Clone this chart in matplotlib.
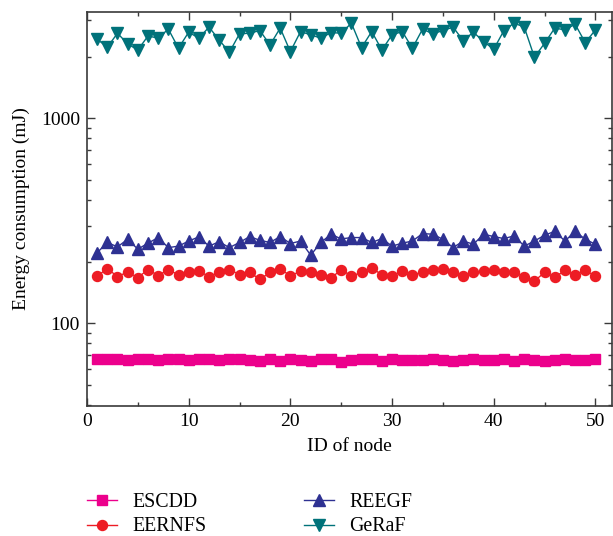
import numpy as np
import matplotlib.pyplot as plt
from matplotlib.ticker import LogLocator, NullFormatter, FixedLocator

plt.rcParams['font.family'] = ['Liberation Serif', 'DejaVu Serif']

# node ids and energy consumption (mJ) for each scheme
node_id = np.arange(1, 51)

escdd = [66.7, 66.8, 66.8, 66.4, 66.8, 66.8, 66.1, 66.7, 66.8, 66.4,
         66.7, 66.8, 66.4, 66.7, 66.8, 66.4, 65.6, 67.0, 65.2, 66.8,
         65.9, 65.6, 66.8, 67.3, 64.6, 65.9, 66.8, 66.8, 65.2, 66.8,
         66.4, 66.4, 65.9, 66.8, 66.4, 65.6, 66.4, 67.0, 66.4, 66.4,
         67.3, 65.6, 66.7, 66.1, 65.6, 66.4, 66.8, 66.1, 66.4, 67.3]

eernfs = [170, 185, 169, 178, 167, 183, 171, 183, 172, 177,
          180, 169, 177, 183, 173, 177, 164, 177, 185, 170,
          180, 177, 172, 166, 183, 170, 177, 187, 172, 170,
          180, 173, 177, 182, 185, 177, 170, 177, 180, 183,
          177, 178, 168, 161, 177, 168, 181, 172, 181, 170]

reegf = [221, 248, 236, 257, 230, 246, 262, 234, 238, 252,
         264, 238, 250, 234, 248, 265, 254, 248, 265, 245,
         252, 215, 248, 272, 258, 262, 262, 248, 259, 238,
         246, 252, 274, 272, 257, 234, 252, 243, 272, 265,
         259, 267, 238, 252, 269, 281, 252, 281, 257, 243]

geraf = [2432, 2223, 2600, 2306, 2153, 2522, 2460, 2723, 2198, 2632,
         2460, 2785, 2410, 2099, 2583, 2600, 2680, 2280, 2755, 2114,
         2650, 2553, 2460, 2620, 2600, 2913, 2212, 2650, 2153, 2553,
         2650, 2198, 2723, 2583, 2680, 2785, 2393, 2632, 2366, 2173,
         2680, 2913, 2785, 1986, 2323, 2755, 2700, 2877, 2340, 2700]

fig = plt.figure(figsize=(6.13, 5.36), dpi=100)
ax = fig.add_axes([0.1419, 0.2425, 0.856, 0.7351])

ax.plot(node_id, escdd, color='#ec008c', marker='s', markersize=6.8,
        linewidth=1.0, label='ESCDD')
ax.plot(node_id, eernfs, color='#ed1c24', marker='o', markersize=7.2,
        linewidth=1.0, label='EERNFS')
ax.plot(node_id, reegf, color='#2e3192', marker='^', markersize=8.6,
        linewidth=1.0, label='REEGF')
ax.plot(node_id, geraf, color='#00727a', marker='v', markersize=8.6,
        linewidth=1.0, label='GeRaF')

ax.set_yscale('log')
ax.set_xlim(0, 51.6)
ax.set_ylim(39.5, 3300)

ax.xaxis.set_major_locator(FixedLocator([0, 10, 20, 30, 40, 50]))
ax.xaxis.set_minor_locator(FixedLocator([5, 15, 25, 35, 45]))
ax.yaxis.set_major_locator(FixedLocator([100, 1000]))
ax.yaxis.set_minor_locator(LogLocator(base=10, subs=np.arange(2, 10)))
ax.yaxis.set_minor_formatter(NullFormatter())
ax.set_yticklabels(['100', '1000'])

ax.tick_params(which='both', direction='in', top=True, right=True,
               colors='#3a3a3a', labelcolor='black', labelsize=14, width=1.0)
ax.tick_params(which='major', length=5.5, pad=5)
ax.tick_params(which='minor', length=2.8)
for s in ax.spines.values():
    s.set_color('#3a3a3a')
    s.set_linewidth(1.2)

ax.set_xlabel('ID of node', fontsize=14, labelpad=6)
ax.set_ylabel('Energy consumption (mJ)', fontsize=14, labelpad=8)

fig.legend(loc='upper left', bbox_to_anchor=(0.112, 0.1145), ncol=2,
           frameon=False, fontsize=14.3, handlelength=1.55, handletextpad=0.75,
           columnspacing=4.9, labelspacing=0.3)

fig.savefig('out.png', dpi=100)
